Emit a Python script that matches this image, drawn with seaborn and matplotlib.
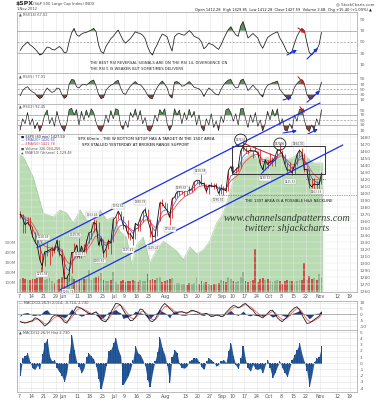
import numpy as np
import pandas as pd
import matplotlib
matplotlib.use("Agg")
import matplotlib.pyplot as plt
from matplotlib.patches import Rectangle, Ellipse
import seaborn as sns

# ---------------- data (trading-day index 0 = 7 May 2012, 123 = 1 Nov 2012) ----------------
tick_pos = [0, 5, 10, 15, 18, 24, 29, 34, 39, 43, 48, 53, 60, 68, 73, 78, 83, 87, 92, 97,
            102, 107, 112, 117, 123, 130, 135]
tick_lab = ["7", "14", "21", "29", "Jun", "11", "18", "25", "Jul", "9", "16", "23", "Aug",
            "13", "20", "27", "Sep", "10", "17", "24", "Oct", "8", "15", "22", "Nov", "12", "19"]

close = [
    1369.58, 1363.72, 1354.58, 1357.99, 1353.39,
    1338.35, 1330.66, 1324.80, 1304.86, 1295.22,
    1315.99, 1316.63, 1318.86, 1320.68, 1317.82,
    1332.42, 1313.32, 1310.33, 1278.04,
    1278.18, 1285.50, 1315.13, 1314.99, 1325.66,
    1308.93, 1324.18, 1314.88, 1329.10, 1342.84,
    1344.78, 1357.98, 1355.69, 1325.51, 1335.02,
    1313.72, 1319.99, 1331.85, 1329.04, 1362.16,
    1365.51, 1374.02, 1367.58, 1354.68,
    1352.46, 1341.47, 1341.45, 1334.76, 1356.78,
    1353.64, 1363.67, 1372.78, 1376.51, 1362.66,
    1350.52, 1338.31, 1337.89, 1360.02, 1385.97,
    1385.30, 1379.32, 1375.32, 1365.00, 1390.99,
    1394.23, 1401.35, 1402.22, 1402.80, 1405.87,
    1404.11, 1403.93, 1405.53, 1415.51, 1418.16,
    1418.13, 1413.17, 1413.49, 1402.08, 1411.13,
    1410.44, 1409.30, 1410.49, 1399.48, 1406.58,
    1404.94, 1403.44, 1432.12, 1437.92,
    1429.08, 1433.56, 1436.56, 1459.99, 1465.77,
    1461.19, 1459.32, 1461.05, 1460.26, 1460.15,
    1456.89, 1441.59, 1433.32, 1447.15, 1440.67,
    1444.49, 1445.75, 1450.99, 1461.40, 1460.93,
    1455.88, 1441.48, 1432.56, 1432.84, 1428.59,
    1440.13, 1454.92, 1460.91, 1457.34, 1433.19,
    1433.82, 1413.11, 1408.75, 1412.97, 1411.94,
    1412.16, 1427.59]

high = [
    1373.91, 1369.58, 1363.73, 1365.88, 1365.22,
    1353.39, 1344.94, 1341.78, 1326.36, 1312.24,
    1316.39, 1328.49, 1320.71, 1324.14, 1324.20,
    1334.93, 1332.42, 1319.74, 1310.33,
    1282.55, 1287.62, 1315.13, 1329.05, 1325.81,
    1335.52, 1324.28, 1327.28, 1333.65, 1343.32,
    1348.22, 1363.46, 1361.57, 1358.61, 1337.82,
    1335.02, 1320.71, 1334.40, 1331.52, 1362.17,
    1366.35, 1374.81, 1373.85, 1367.09,
    1354.65, 1361.54, 1345.00, 1341.45, 1357.70,
    1355.96, 1365.36, 1375.26, 1380.39, 1376.51,
    1362.66, 1351.53, 1343.98, 1363.13, 1389.19,
    1391.74, 1387.16, 1385.03, 1375.13, 1394.16,
    1399.63, 1407.14, 1404.14, 1405.95, 1405.98,
    1405.88, 1410.03, 1407.73, 1417.44, 1418.71,
    1418.13, 1426.68, 1416.12, 1413.49, 1413.46,
    1416.17, 1413.95, 1413.95, 1410.49, 1413.49,
    1409.31, 1408.81, 1432.12, 1437.92,
    1438.74, 1437.76, 1439.15, 1463.76, 1474.51,
    1465.63, 1461.47, 1465.15, 1460.26, 1467.07,
    1460.15, 1463.46, 1441.60, 1448.98, 1447.15,
    1457.14, 1451.52, 1453.25, 1463.14, 1470.96,
    1460.93, 1455.88, 1442.19, 1443.92, 1438.43,
    1441.31, 1455.51, 1462.76, 1464.02, 1457.34,
    1435.46, 1433.82, 1420.04, 1421.12, 1417.11,
    1418.76, 1429.85]

low = [
    1363.94, 1343.13, 1343.13, 1354.58, 1348.89,
    1336.61, 1328.49, 1324.80, 1304.86, 1291.98,
    1295.72, 1310.04, 1296.53, 1310.54, 1314.22,
    1317.82, 1310.04, 1298.90, 1277.25,
    1266.74, 1274.18, 1285.61, 1312.70, 1307.78,
    1307.73, 1306.62, 1310.51, 1314.14, 1329.10,
    1334.52, 1344.78, 1346.45, 1324.41, 1325.92,
    1309.27, 1309.09, 1319.99, 1313.33, 1330.12,
    1355.70, 1363.53, 1363.02, 1348.03,
    1345.74, 1336.35, 1333.18, 1325.41, 1334.76,
    1346.28, 1345.07, 1358.61, 1371.39, 1362.19,
    1337.56, 1329.24, 1331.50, 1338.31, 1360.02,
    1381.37, 1379.17, 1373.04, 1354.65, 1365.00,
    1390.99, 1394.23, 1396.56, 1398.80, 1395.62,
    1397.32, 1400.64, 1401.50, 1404.14, 1414.69,
    1412.07, 1410.86, 1406.75, 1400.50, 1398.04,
    1409.08, 1405.59, 1406.58, 1397.01, 1398.04,
    1396.56, 1401.28, 1403.20, 1431.53,
    1428.88, 1429.10, 1432.00, 1435.35, 1460.00,
    1457.55, 1456.13, 1460.02, 1449.90, 1459.51,
    1452.06, 1441.58, 1430.53, 1433.32, 1435.23,
    1440.67, 1439.01, 1439.01, 1451.00, 1456.90,
    1450.64, 1441.15, 1430.64, 1432.22, 1425.53,
    1427.24, 1440.13, 1453.35, 1452.63, 1429.85,
    1422.06, 1407.56, 1407.10, 1405.14, 1403.33,
    1405.95, 1412.28]

volume_m = [
    130, 140, 135, 125, 120,
    135, 130, 140, 150, 250,
    120, 130, 140, 115, 95,
    120, 135, 150, 200,
    150, 140, 160, 130, 120,
    135, 125, 130, 130, 220,
    120, 140, 150, 160, 190,
    120, 110, 115, 125, 200,
    100, 80, 110, 120,
    105, 115, 110, 120, 110,
    100, 120, 115, 115, 180,
    125, 130, 120, 140, 150,
    100, 115, 120, 130, 140,
    85, 95, 90, 85, 80,
    75, 90, 80, 95, 150,
    80, 110, 90, 100, 80,
    70, 85, 80, 95, 120,
    110, 100, 150, 130,
    110, 100, 110, 150, 200,
    110, 100, 110, 120, 440,
    100, 130, 140, 120, 130,
    110, 100, 110, 120, 110,
    80, 110, 120, 115, 110,
    100, 110, 120, 120, 300,
    120, 160, 130, 140, 120,
    180, 150]

# green volume-average area (index, millions)
area_x = [0, 1.8, 5.8, 9.9, 14.0, 16.7, 19.5, 22.2, 24.9, 27.6, 30.3, 33.1, 35.8, 38.5, 41.2,
          43.9, 46.0, 48.0, 50.7, 53.5, 56.2, 58.9, 61.6, 64.3, 67.1, 69.8, 72.5, 75.2, 77.9,
          80.7, 83.4, 84.8, 87.5, 90.2, 92.9, 95.6, 98.4, 101.1, 103.8, 106.5, 109.2, 112.0,
          114.7, 117.4, 120.1, 122.9, 124.0]
area_m = [1398, 1378, 1173, 806, 765, 837, 806, 704, 837, 735, 704, 837, 735, 765, 620,
          560, 280, 480, 560, 300, 430, 520, 470, 420, 330, 460, 390, 430, 520,
          704, 806, 908, 1143, 1316, 1378, 1418, 1316, 1378, 1347, 1418, 1347, 1378,
          1418, 1378, 1316, 1316, 1316]

rsi14 = [
    35, 42, 46, 50, 45, 42, 38, 33, 27, 29,
    35, 41, 40, 37, 36, 39, 42, 38, 31, 32,
    51, 66, 74, 63, 60, 64, 66, 67, 69, 71,
    74, 68, 45, 33, 30, 42, 49, 56, 60, 66,
    71, 62, 53, 48, 52, 56, 62, 68, 66, 65,
    62, 56, 42, 32, 27, 38, 46, 56, 64, 62,
    59, 45, 34, 59, 64, 65, 63, 62, 66, 70,
    66, 60, 58, 56, 50, 38, 42, 48, 46, 44,
    40, 37, 45, 55, 64, 72, 77, 69, 63, 60,
    78, 86, 72, 57, 61, 65, 61, 57, 46, 39,
    48, 58, 61, 64, 66, 68, 57, 50, 41, 32,
    30, 34, 48, 60, 68, 74, 70, 50, 32, 27,
    32, 36, 45, 67]

rsi5 = [
    25, 45, 55, 60, 48, 40, 35, 22, 14, 20,
    40, 55, 45, 38, 42, 55, 52, 30, 15, 22,
    70, 88, 86, 60, 55, 66, 70, 66, 74, 82,
    86, 62, 30, 14, 18, 45, 58, 66, 70, 80,
    85, 55, 35, 30, 48, 62, 72, 80, 70, 68,
    58, 45, 28, 16, 14, 40, 58, 72, 82, 70,
    55, 25, 16, 78, 80, 74, 62, 64, 72, 80,
    70, 58, 55, 52, 42, 22, 40, 55, 48, 38,
    30, 28, 50, 66, 78, 86, 88, 68, 55, 58,
    84, 90, 70, 45, 55, 66, 55, 45, 30, 20,
    50, 66, 70, 75, 78, 82, 50, 38, 25, 16,
    18, 30, 58, 72, 82, 88, 70, 32, 14, 12,
    25, 35, 45, 78]

rsi2 = [
    10, 55, 35, 80, 30, 55, 15, 40, 5, 30,
    70, 90, 35, 60, 25, 85, 45, 20, 5, 35,
    92, 97, 70, 92, 30, 85, 50, 90, 60, 95,
    80, 40, 15, 4, 25, 70, 40, 88, 55, 95,
    90, 30, 12, 45, 20, 80, 60, 94, 50, 88,
    35, 60, 12, 5, 25, 70, 45, 92, 75, 95,
    35, 8, 30, 95, 70, 90, 35, 80, 50, 93,
    60, 85, 30, 70, 20, 6, 55, 30, 75, 20,
    45, 8, 65, 40, 90, 96, 80, 45, 75, 30,
    95, 97, 55, 20, 70, 40, 80, 25, 50, 6,
    35, 85, 50, 92, 65, 95, 30, 55, 10, 5,
    35, 15, 70, 45, 92, 96, 50, 15, 4, 30,
    10, 55, 30, 92]

macd = [
    -6.3, -7.0, -7.5, -6.8, -6.0, -5.5, -3.0, -3.5, -5.5, -7.5,
    -10.0, -8.5, -6.0, -2.5, -0.8, -0.5, -2.0, -3.8, -6.5, -7.5,
    -4.0, -0.5, 3.0, 6.5, 6.0, 5.2, 3.5, 2.2, 0.8, -0.3,
    1.2, 2.2, -1.0, -4.6, -5.8, -6.3, -3.0, 1.8, 5.5, 9.3,
    9.0, 7.9, 4.0, 0.5, -2.5, -5.5, -5.0, -2.5, 1.0, 4.5,
    4.0, 0.8, -2.0, -5.5, -6.3, -4.5, -0.5, 3.6, 7.0, 9.3,
    7.5, 5.0, 3.0, 0.8, 1.5, 2.0, 2.2, 1.5, 0.8, 2.2,
    3.6, 3.0, 2.2, 1.0, -0.3, 0.2, 0.8, -0.5, -2.0, -1.5,
    -0.5, -0.8, -2.0, -1.5, 1.5, 3.6, 6.0, 7.5, 7.0, 5.5,
    6.5, 8.5, 9.3, 7.0, 5.0, 3.6, 0.5, -0.8, -2.0, -3.1,
    -1.0, 0.8, 3.0, 3.6, 0.5, -3.0, -5.0, -6.3, -4.0, -2.0,
    1.5, 3.6, 5.5, 6.5, 4.0, -0.3, -4.0, -7.7, -7.5, -6.3,
    -4.5, -3.1, -1.5, 2.0]

hist = [
    -2.0, 0.8, 1.2, 1.6, 0.2, -0.8, -1.0, -0.3, -0.9, 1.5,
    3.3, 3.9, 1.1, 0.3, 0.6, -0.8, -1.4, -2.0, -3.0, -1.5,
    1.5, 4.6, 2.2, 0.3, -0.6, -1.6, -0.8, 1.0, 1.6, 1.1,
    0.7, -0.6, -2.5, -4.2, -2.6, -0.5, 2.0, 2.2, 3.2, 4.1,
    2.2, 1.2, -3.5, -2.8, -2.1, -1.0, 0.5, 2.8, 1.7, 1.4,
    0.6, -0.5, -2.7, -3.8, -1.5, 0.3, 1.8, 4.2, 2.4, 1.4,
    -0.5, -3.2, 1.0, 2.2, 1.7, -0.2, -0.7, -0.8, -0.5, 0.3,
    0.6, 0.8, 0.9, 0.2, -0.6, -1.0, 0.3, 0.9, 0.5, 0.2,
    -0.5, -0.2, 0.3, 0.6, 0.1, 2.0, 3.3, 1.1, -0.3, -0.9,
    0.8, 2.8, 0.5, -0.8, -1.3, -0.2, -0.9, -1.0, -0.8, -1.6,
    -0.3, 0.6, -0.8, -2.4, -1.5, -0.5, 0.3, -0.8, -1.5, -2.2,
    -0.8, 0.6, 1.4, 2.2, 3.3, 1.5, 0.2, -1.2, -3.8, -2.0,
    0.2, 0.8, 1.0, 2.7]

swing_labels = [("1328.49", 10.0, 1337), ("1291.98", 9.5, 1284), ("1266.74", 20.0, 1259),
                ("1329.05", 22.8, 1340), ("1310.51", 24.9, 1313), ("1363.46", 30.0, 1369),
                ("1306.62", 33.0, 1303), ("1374.81", 40.5, 1381), ("1325.41", 44.6, 1318),
                ("1380.39", 49.4, 1387), ("1329.24", 54.8, 1322), ("1354.65", 61.6, 1348),
                ("1399.63", 66.4, 1407), ("1426.68", 73.9, 1431), ("1396.56", 81.4, 1390),
                ("1430.53", 100.4, 1421), ("1425.53", 110.6, 1416), ("1464.02", 114.0, 1470),
                ("1403.33", 121.5, 1402)]

# ---------------- styling ----------------
sns.set_theme(style="white")
plt.rcParams['font.family'] = ['DejaVu Sans']

W, H = 377, 400
L, R = 17, 357
fig = plt.figure(figsize=(W / 100, H / 100), dpi=100)
fig.patch.set_facecolor('white')

def add_ax(top, bot, z=0):
    ax = fig.add_axes([L / W, 1 - bot / H, (R - L) / W, (bot - top) / H])
    ax.set_zorder(z)
    return ax

def ftext(x, y, s, **kw):
    kw.setdefault('va', 'center')
    kw.setdefault('fontsize', 2.8)
    kw.setdefault('color', '#444444')
    fig.text(x / W, 1 - y / H, s, **kw)

XL = (-0.8, 138)
GRID = '#e4e4e4'

def style(ax, yticks, ylabels, show_x=False, ygrid=True):
    ax.set_xlim(*XL)
    ax.set_xticks(tick_pos)
    ax.set_xticklabels(tick_lab)
    ax.set_yticks(yticks)
    ax.set_yticklabels(ylabels)
    ax.yaxis.tick_right()
    ax.tick_params(axis='y', labelsize=3.2, length=0, pad=2, labelcolor='#666666')
    ax.tick_params(axis='x', labelsize=3.4, length=0, pad=1.2, labelcolor='#555555',
                   labelbottom=show_x)
    ax.grid(True, axis='x', color=GRID, lw=0.4)
    if ygrid:
        ax.grid(True, axis='y', color=GRID, lw=0.4)
    for s in ax.spines.values():
        s.set_color('#a0a0a0')
        s.set_linewidth(0.5)
    ax.set_xlabel('')
    ax.set_ylabel('')

n = len(close)
xs = np.arange(n) + 0.5
GREEN_F = '#5d8f5d'
RED_F = '#8a4040'

def rsi_panel(top, bot, vals, ylim, lw):
    ax = add_ax(top, bot, z=1)
    v = np.asarray(vals, float)
    ax.fill_between(xs, v, 70, where=v >= 70, interpolate=True, color=GREEN_F, lw=0)
    ax.fill_between(xs, v, 30, where=v <= 30, interpolate=True, color=RED_F, lw=0)
    for lev, ls in ((70, '-'), (30, '-'), (50, (0, (3, 2)))):
        ax.axhline(lev, color='#9a9a9a', lw=0.5, ls=ls, zorder=1)
    sns.lineplot(x=xs, y=v, ax=ax, color='#1a1a1a', linewidth=lw, legend=False)
    ax.set_ylim(*ylim)
    style(ax, [10, 30, 50, 70, 90], ['10', '30', '50', '70', '90'], ygrid=False)
    return ax

ax14 = rsi_panel(12, 73, rsi14, (-4.7, 102.9), 0.55)
ax5 = rsi_panel(73, 104, rsi5, (-7.1, 113.3), 0.5)
ax2 = rsi_panel(104, 134, rsi2, (-6, 114), 0.45)

# divergence arrows in the RSI panels
arrow_sets = [
    (ax14, [((109.4, 27), (113.5, 36), '#1530e0'), ((117.6, 20), (122.0, 39.4), '#1530e0'),
            ((113.9, 74.7), (117.1, 65.9), '#e01818')]),
    (ax5, [((107.8, 8.4), (111.4, 19), '#1530e0'), ((117.6, 0), (122.9, 44.6), '#1530e0'),
           ((113.9, 99), (116.7, 66.7), '#e01818')]),
    (ax2, [((107.8, -2), (113.5, 7), '#1530e0'), ((117.6, -8), (122.0, 14), '#1530e0'),
           ((114.7, 103), (116.7, 78), '#e01818')]),
]
for ax, arrs in arrow_sets:
    for (x0, y0), (x1, y1), c in arrs:
        ax.annotate('', xy=(x1, y1), xytext=(x0, y0), annotation_clip=False,
                    arrowprops=dict(arrowstyle='-|>,head_length=0.5,head_width=0.25',
                                    mutation_scale=4, color=c, lw=0.8,
                                    shrinkA=0, shrinkB=0))

ax14.text(29, 13, "THE BEST RSI REVERSAL SIGNALS ARE ON THE RSI 14, DIVERGENCE ON",
          fontsize=2.7, color='#222222', va='center')
ax14.text(29, 2.4, "THE RSI 5 IS WEAKER BUT SOMETIMES DELIVERS",
          fontsize=2.7, color='#222222', va='center')

# ---------------- price panel ----------------
P_TOP, P_BOT = 134, 292
ax_v = add_ax(P_TOP, P_BOT, z=2)
ax_v.fill_between(area_x, area_m, 0, color='#b8dbb1', lw=0)
sns.lineplot(x=area_x, y=area_m, ax=ax_v, color='#98c890', linewidth=0.4, legend=False)
vcol = ['#c9514a' if (i > 0 and close[i] < close[i - 1]) else '#8fb38a' for i in range(n)]
ax_v.bar(xs, volume_m, width=0.75, color=vcol, lw=0)
ax_v.set_xlim(*XL)
ax_v.set_ylim(0, 1612)
ax_v.set_xticks([])
ax_v.set_yticks([100, 200, 300, 400, 500])
ax_v.set_yticklabels(['100M', '200M', '300M', '400M', '500M'])
ax_v.tick_params(axis='y', labelsize=3.0, length=0, pad=1, labelcolor='#777777',
                 labelleft=True, labelright=False)
ax_v.grid(False)
for s in ax_v.spines.values():
    s.set_visible(False)

ax_p = add_ax(P_TOP, P_BOT, z=6)
ax_p.patch.set_visible(False)
ser = pd.Series(close)
ema20 = ser.ewm(span=4, adjust=False).mean()
ema50 = ser.ewm(span=8, adjust=False).mean()
sns.lineplot(x=xs, y=ema50.values, ax=ax_p, color='#f05050', linewidth=0.6, legend=False)
sns.lineplot(x=xs, y=ema20.values, ax=ax_p, color='#3a50d8', linewidth=0.5, legend=False)
ax_p.vlines(xs, low, high, color='#d01c1c', lw=0.55)
sns.lineplot(x=xs, y=close, ax=ax_p, color='#111111', linewidth=0.6, legend=False)
ax_p.set_ylim(1258.6, 1484.3)
pt = list(range(1260, 1481, 10))
style(ax_p, pt, [str(v) for v in pt], show_x=True)
ax_p.grid(True, axis='y', color='#e8e8e8', lw=0.35)

# channel and annotations
ax_p.plot([7.35, 122.9], [1321.9, 1528.6], color='#1a2ee6', lw=0.9, clip_on=False, zorder=5)
ax_p.plot([16.7, 132.2], [1261.4, 1468.6], color='#1a2ee6', lw=0.9, clip_on=False, zorder=5)
ax_p.plot([91.6, 105.2], [1471, 1451.9], color='#e01818', lw=0.7, zorder=5)
ax_p.plot([99.0, 105.2], [1428, 1449.6], color='#1a2ee6', lw=0.7, zorder=5)
ax_p.add_patch(Rectangle((86.8, 1426.7), 38.1, 40.3, fill=False, ec='#333333', lw=0.7, zorder=4))
ax_p.hlines(1397, 80, 138, colors='#555555', lw=0.5, linestyles=(0, (1, 1.5)))
ax_p.hlines(1420, 117, 125, colors='#333333', lw=0.6, linestyles=(0, (1, 1.2)))
for cx, cy, t in ((90.5, 1475.7, "1474.51"), (106.5, 1470.0, "1470.96")):
    ax_p.add_patch(Ellipse((cx, cy), 4.9, 17, fill=False, ec='#222222', lw=0.6,
                           clip_on=False, zorder=6))
    ax_p.text(cx, cy, t, fontsize=1.8, ha='center', va='center', color='#333333', clip_on=False)

for t, x, y in swing_labels:
    ax_p.text(x, y, t, fontsize=2.0, ha='center', va='center', color='#444444', zorder=7,
              bbox=dict(boxstyle='square,pad=0.15', fc='white', ec='#aaaaaa', lw=0.3))

ax_p.text(24.1, 1477, "SPX 60min - THE W BOTTOM SETUP HAS A TARGET IN THE 1507 AREA",
          fontsize=2.8, color='#111111', va='center')
ax_p.text(25.7, 1468.6, "SPX STALLED YESTERDAY AT BROKEN RANGE SUPPORT",
          fontsize=2.8, color='#111111', va='center')
ax_p.text(92.2, 1388.6, "THE 1397 AREA IS A POSSIBLE H&S NECKLINE",
          fontsize=2.7, color='#111111', va='center')
ax_p.text(83.5, 1364.3, "www.channelsandpatterns.com", fontsize=7.3, color='#2e3b2e',
          family='Liberation Serif', style='italic', va='center')
ax_p.text(92.2, 1349.0, "twitter: shjackcharts", fontsize=7.3, color='#2e3b2e',
          family='Liberation Serif', style='italic', va='center')

leg = [("■ $SPX (60 min) 1427.59", '#222222'), ("— EMA(20) 1420.84", '#3a50d8'),
       ("— EMA(50) 1421.78", '#e04040'), ("■ Volume 326,044,256", '#555555'),
       ("▲ SMA(50) (Volume) 1,129.48", '#555555')]
for i, (t, c) in enumerate(leg):
    ax_p.text(0.012, 1 - (2.0 + 4.2 * i) / (P_BOT - P_TOP), t, transform=ax_p.transAxes,
              fontsize=2.4, color=c, va='center')

# ---------------- MACD panel ----------------
ax_m = add_ax(301, 330, z=1)
mac = pd.Series(macd)
signal = mac.ewm(span=3, adjust=False).mean()
ax_m.fill_between(xs, hist, 0, color='#1d3f86', lw=0)
sns.lineplot(x=xs, y=signal.values, ax=ax_m, color='#f06060', linewidth=0.6, legend=False)
sns.lineplot(x=xs, y=macd, ax=ax_m, color='#111111', linewidth=0.55, legend=False)
ax_m.axhline(0, color='#888888', lw=0.4)
ax_m.set_ylim(-13.4, 11.4)
style(ax_m, [-10, -5, 0, 5, 10], ['-10', '-5', '0', '5', '10'])

# ---------------- MACD histogram panel ----------------
ax_h = add_ax(330, 392, z=1)
ax_h.fill_between(xs, hist, 0, color='#275a99', lw=0)
ax_h.bar(xs, hist, width=0.5, color='#1f4f8f', lw=0)
ax_h.set_ylim(-4.64, 5.36)
style(ax_h, [-4, -3, -2, -1, 0, 1, 2, 3, 4, 5],
      ['-4', '-3', '-2', '-1', '0', '1', '2', '3', '4', '5'], show_x=True)

# ---------------- header and panel labels ----------------
ftext(16, 4, "$SPX", fontsize=4.4, weight='bold', color='#222222')
ftext(33, 4, "(S&P 500 Large Cap Index) INDX", fontsize=2.7)
ftext(17, 9.5, "1-Nov-2012", fontsize=2.6)
ftext(375, 4, "@ StockCharts.com", fontsize=2.8, ha='right')
ftext(372, 9.5, "Open 1412.28  High 1429.85  Low 1412.28  Close 1427.59  Volume 2.6B  "
      "Chg +15.40 (+1.09%) ▲", fontsize=2.6, ha='right', color='#222222')
ftext(19, 15, "▲ RSI(14) 67.02", fontsize=2.6, color='#555555')
ftext(19, 76.5, "▲ RSI(5) 77.91", fontsize=2.6, color='#555555')
ftext(19, 107, "▲ RSI(2) 92.45", fontsize=2.6, color='#555555')
ftext(19, 303, "— MACD(12,26,9) 2.014, -0.714, 2.730", fontsize=2.6, color='#555555')
ftext(19, 333, "▲ MACD(12,26,9) Hist 2.730", fontsize=2.6, color='#555555')

fig.savefig("out.png", dpi=100, facecolor='white')
